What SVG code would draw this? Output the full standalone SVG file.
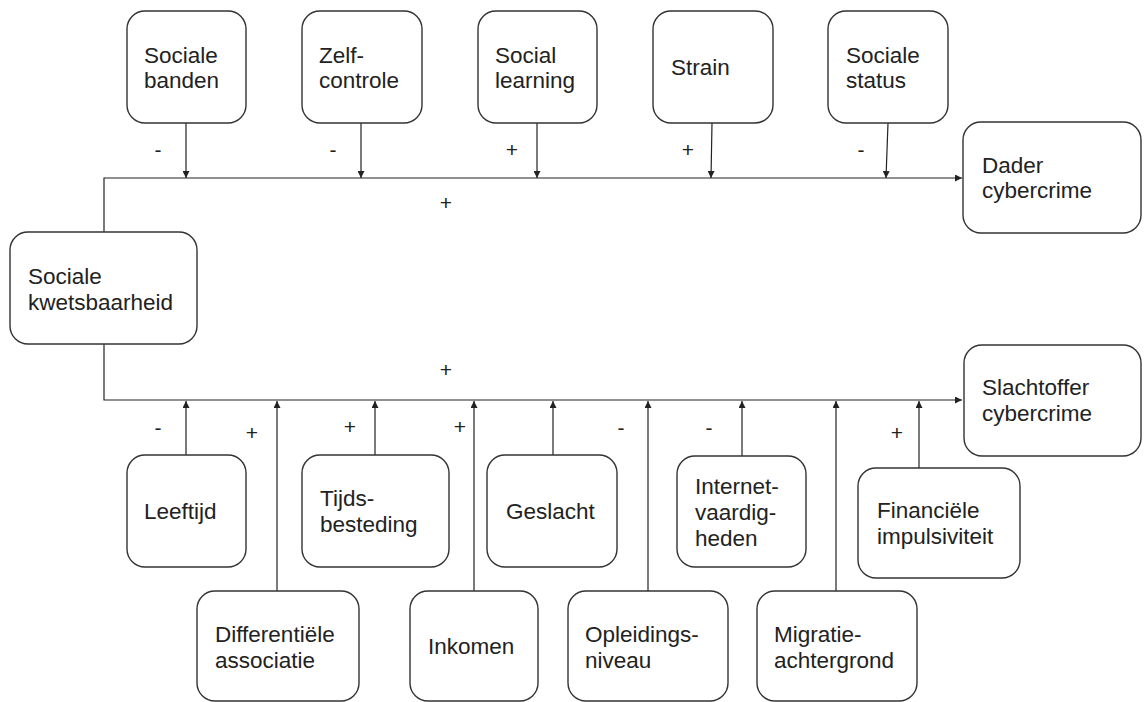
<svg xmlns="http://www.w3.org/2000/svg" width="1148" height="702" viewBox="0 0 1148 702">
<style>
.box{fill:#fff;stroke:#333;stroke-width:1.4}
.t{font-family:"Liberation Sans",Arial,sans-serif;font-size:22.5px;fill:#222}
.s{font-family:"Liberation Sans",Arial,sans-serif;font-size:21px;fill:#222;text-anchor:middle}
.c{fill:none;stroke:#222;stroke-width:1.4}
.a{fill:none;stroke:#222;stroke-width:1.2;marker-end:url(#ah)}
</style>
<defs>
<marker id="ah" viewBox="0 0 10 10" refX="10" refY="5" markerWidth="7" markerHeight="7" markerUnits="userSpaceOnUse" orient="auto">
<path d="M0,0 L10,5 L0,10 z" fill="#222"/>
</marker>
</defs>
<rect width="1148" height="702" fill="#fff"/>
<g id="connectors">
<path class="a" d="M104,232 V178 H962"/>
<path class="a" d="M104,344 V400 H962"/>
<path class="a" d="M186,123 V178"/>
<path class="a" d="M361,123 V178"/>
<path class="a" d="M537,123 V178"/>
<path class="a" d="M712,123 L711,178"/>
<path class="a" d="M888,123 L886,178"/>
<path class="a" d="M186,455 V401"/>
<path class="a" d="M277,591 V401"/>
<path class="a" d="M375,455 V401"/>
<path class="a" d="M474,591 V401"/>
<path class="a" d="M553,455 V401"/>
<path class="a" d="M648,591 V401"/>
<path class="a" d="M742,456 V401"/>
<path class="a" d="M836,591 V401"/>
<path class="a" d="M919,468 V401"/>
<text class="s" x="158" y="157">-</text>
<text class="s" x="333" y="157">-</text>
<text class="s" x="512" y="157">+</text>
<text class="s" x="688" y="157">+</text>
<text class="s" x="861" y="157">-</text>
<text class="s" x="446" y="210">+</text>
<text class="s" x="446" y="377">+</text>
<text class="s" x="158" y="435">-</text>
<text class="s" x="252" y="440">+</text>
<text class="s" x="350" y="434">+</text>
<text class="s" x="460" y="434">+</text>
<text class="s" x="621" y="435">-</text>
<text class="s" x="709" y="435">-</text>
<text class="s" x="897" y="440">+</text>
</g>
<g id="sociale-banden"><rect class="box" x="127" y="11" width="119" height="112" rx="18"/><text class="t" x="144" y="63">Sociale</text><text class="t" x="144" y="88">banden</text></g>
<g id="zelfcontrole"><rect class="box" x="302" y="11" width="120" height="112" rx="18"/><text class="t" x="319" y="63">Zelf-</text><text class="t" x="319" y="88">controle</text></g>
<g id="social-learning"><rect class="box" x="478" y="11" width="119" height="112" rx="18"/><text class="t" x="495" y="63">Social</text><text class="t" x="495" y="88">learning</text></g>
<g id="strain"><rect class="box" x="653" y="11" width="120" height="112" rx="18"/><text class="t" x="671" y="75">Strain</text></g>
<g id="sociale-status"><rect class="box" x="828" y="11" width="120" height="112" rx="18"/><text class="t" x="846" y="63">Sociale</text><text class="t" x="846" y="88">status</text></g>
<g id="dader"><rect class="box" x="963" y="122" width="178" height="111" rx="18"/><text class="t" x="982" y="173">Dader</text><text class="t" x="982" y="198">cybercrime</text></g>
<g id="kwetsbaarheid"><rect class="box" x="10" y="232" width="187" height="112" rx="18"/><text class="t" x="28" y="284">Sociale</text><text class="t" x="28" y="310">kwetsbaarheid</text></g>
<g id="slachtoffer"><rect class="box" x="964" y="345" width="177" height="111" rx="18"/><text class="t" x="982" y="395">Slachtoffer</text><text class="t" x="982" y="421">cybercrime</text></g>
<g id="leeftijd"><rect class="box" x="127" y="455" width="119" height="112" rx="18"/><text class="t" x="144" y="519">Leeftijd</text></g>
<g id="tijdsbesteding"><rect class="box" x="302" y="455" width="147" height="112" rx="18"/><text class="t" x="320" y="506">Tijds-</text><text class="t" x="320" y="532">besteding</text></g>
<g id="geslacht"><rect class="box" x="487" y="455" width="130" height="112" rx="18"/><text class="t" x="506" y="519">Geslacht</text></g>
<g id="internet"><rect class="box" x="677" y="456" width="129" height="111" rx="18"/><text class="t" x="695" y="494">Internet-</text><text class="t" x="695" y="520">vaardig-</text><text class="t" x="695" y="546">heden</text></g>
<g id="financiele"><rect class="box" x="858" y="468" width="162" height="110" rx="18"/><text class="t" x="877" y="518">Financiële</text><text class="t" x="877" y="544">impulsiviteit</text></g>
<g id="differentiele"><rect class="box" x="197" y="591" width="162" height="110" rx="18"/><text class="t" x="215" y="642">Differentiële</text><text class="t" x="215" y="668">associatie</text></g>
<g id="inkomen"><rect class="box" x="410" y="591" width="128" height="110" rx="18"/><text class="t" x="428" y="654">Inkomen</text></g>
<g id="opleiding"><rect class="box" x="568" y="591" width="160" height="110" rx="18"/><text class="t" x="585" y="642">Opleidings-</text><text class="t" x="585" y="668">niveau</text></g>
<g id="migratie"><rect class="box" x="757" y="591" width="160" height="110" rx="18"/><text class="t" x="774" y="642">Migratie-</text><text class="t" x="774" y="668">achtergrond</text></g>
</svg>
